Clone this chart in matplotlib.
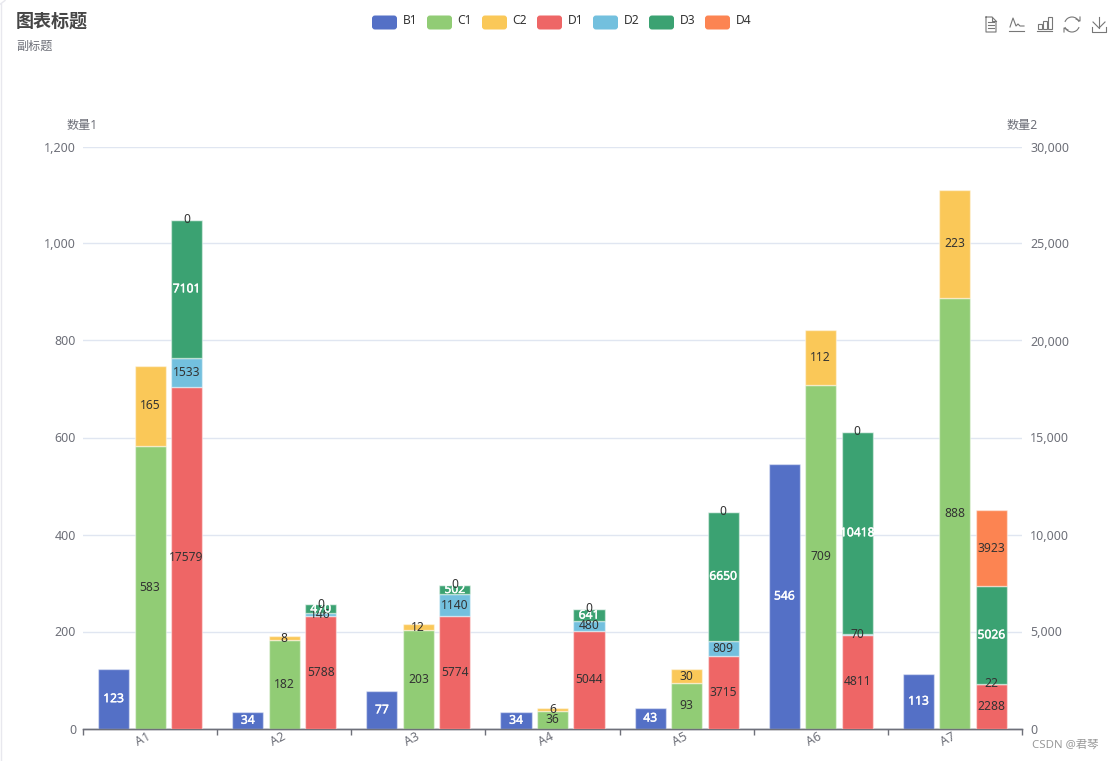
import numpy as np
import matplotlib
matplotlib.use("Agg")
import matplotlib.pyplot as plt
import matplotlib.patheffects as pe
from matplotlib.lines import Line2D
from matplotlib.patches import FancyBboxPatch, Rectangle, Arc
from matplotlib.transforms import Affine2D

plt.rcParams['font.family'] = ['Noto Sans', 'Noto Sans CJK SC', 'DejaVu Sans']

categories = ['A1', 'A2', 'A3', 'A4', 'A5', 'A6', 'A7']
b1 = [123, 34, 77, 34, 43, 546, 113]
c1 = [583, 182, 203, 36, 93, 709, 888]
c2 = [165, 8, 12, 6, 30, 112, 223]
d1 = [17579, 5788, 5774, 5044, 3715, 4811, 2288]
d2 = [1533, 146, 1140, 480, 809, 70, 22]
d3 = [7101, 470, 502, 641, 6650, 10418, 5026]
d4 = [0, 0, 0, 0, 0, 0, 3923]

legend_names = ['B1', 'C1', 'C2', 'D1', 'D2', 'D3', 'D4']
left_ticks = [0, 200, 400, 600, 800, 1000, 1200]
right_ticks = [0, 5000, 10000, 15000, 20000, 25000, 30000]

BLUE = '#5470c6'
GREEN = '#91cc75'
YELLOW = '#fac858'
RED = '#ee6666'
SKY = '#73c0de'
DARK_GREEN = '#3ba272'
ORANGE = '#fc8452'
legend_colors = [BLUE, GREEN, YELLOW, RED, SKY, DARK_GREEN, ORANGE]
legend_x = [372, 427, 482, 537, 593, 649, 705]

AXIS_GREY = '#6e7079'
GRID = '#e0e6f1'
LABEL_DARK = '#333333'
ICON = '#777777'

W, H = 1114, 761
fig = plt.figure(figsize=(W / 100, H / 100), dpi=100)
# plot area in pixels: x 83-1022, y 146.5-728.5
ax = fig.add_axes([83 / W, 1 - 728.5 / H, (1022 - 83) / W, 582 / H])
ax2 = ax.twinx()

# pixel transform for things outside the axes (y going down like the screenshot)
px = Affine2D().scale(1, -1).translate(0, H)

BAR_W = 0.232
OFFSET = 0.272


def stack(axis, xpos, series, colors, label_colors):
    bottom = np.zeros(len(xpos))
    for vals, color, lc in zip(series, colors, label_colors):
        vals = np.array(vals, dtype=float)
        axis.bar(xpos, vals, BAR_W, bottom=bottom, color=color,
                 edgecolor=(1, 1, 1, 0.45), linewidth=1, zorder=3)
        for x, b, v in zip(xpos, bottom, vals):
            t = axis.text(x, b + v / 2, f'{int(v)}', color=lc, fontsize=8.7,
                          ha='center', va='center', zorder=6)
            if lc == 'white':
                t.set_path_effects([pe.withStroke(linewidth=0.3, foreground='white')])
        bottom = bottom + vals


xs = np.arange(len(categories))
stack(ax, xs - OFFSET, [b1], [BLUE], ['white'])
stack(ax, xs, [c1, c2], [GREEN, YELLOW], [LABEL_DARK, LABEL_DARK])
stack(ax2, xs + OFFSET, [d1, d2, d3, d4], [RED, SKY, DARK_GREEN, ORANGE],
      [LABEL_DARK, LABEL_DARK, 'white', LABEL_DARK])

ax.set_xlim(-0.5, len(categories) - 0.5)
ax.set_ylim(0, 1200)
ax2.set_ylim(0, 30000)
ax.set_zorder(ax2.get_zorder() - 1)
ax2.patch.set_visible(False)

ax.set_yticks(left_ticks)
ax.set_yticklabels([f'{v:,}' for v in left_ticks])
ax2.set_yticks(right_ticks)
ax2.set_yticklabels([f'{v:,}' for v in right_ticks])
ax.tick_params(axis='y', length=0, pad=5, labelsize=9, labelcolor=AXIS_GREY)
ax2.tick_params(axis='y', length=0, pad=6, labelsize=9, labelcolor=AXIS_GREY)
ax.grid(axis='y', color=GRID, linewidth=1, zorder=0)
ax.set_axisbelow(True)

for a in (ax, ax2):
    for side in ('top', 'left', 'right'):
        a.spines[side].set_visible(False)
    a.spines['bottom'].set_color(AXIS_GREY)
    a.spines['bottom'].set_linewidth(1)

ax.set_xticks(np.arange(-0.5, len(categories)), minor=False)
ax.set_xticklabels([])
ax.tick_params(axis='x', length=4, width=1, color=AXIS_GREY)
ax2.tick_params(axis='x', length=0)
ax.set_xticks(xs, minor=True)
ax.set_xticklabels(categories, minor=True, rotation=28, ha='right', va='center',
                   rotation_mode='anchor', fontsize=9, color=AXIS_GREY)
ax.tick_params(axis='x', which='minor', length=0, pad=5)

# titles
fig.text(16, 22, '图表标题', transform=px, fontsize=13, fontweight='bold',
         color='#464646', va='center', ha='left')
fig.text(16, 46, '副标题', transform=px, fontsize=8.7, color=AXIS_GREY,
         va='center', ha='left')
fig.text(82.5, 125.5, '数量1', transform=px, fontsize=8.7, color=AXIS_GREY,
         va='center', ha='center')
fig.text(1022.5, 125.5, '数量2', transform=px, fontsize=8.7, color=AXIS_GREY,
         va='center', ha='center')
fig.text(1032, 745, 'CSDN @君琴', transform=px, fontsize=8.2, color='#999999',
         va='center', ha='left')

# legend, echarts style round rects
for name, col, lx in zip(legend_names, legend_colors, legend_x):
    fig.add_artist(FancyBboxPatch((lx + 2, 17.5), 21, 10, boxstyle='round,pad=2,rounding_size=3',
                                  facecolor=col, edgecolor='none', transform=px))
    fig.text(lx + 30.5, 20.5, name, transform=px, fontsize=8.7, color='#333333',
             va='center', ha='left')


def icon_line(xv, yv, lw=0.8):
    fig.add_artist(Line2D(xv, yv, color=ICON, linewidth=lw, transform=px))


# toolbox: data view
icon_line([986, 992, 996, 996, 986, 986], [17, 17, 21, 32, 32, 17])
icon_line([992, 992, 996], [17, 21, 21])
for yy in (22, 25, 28):
    icon_line([988, 994], [yy, yy])
# toolbox: line
icon_line([1009, 1024], [31, 31])
icon_line([1010, 1013, 1016, 1018, 1020, 1024], [27, 18, 26, 24, 26, 26])
# toolbox: bar
icon_line([1037, 1052], [31, 31])
for bx, top in zip((1038, 1043, 1048), (24, 21, 17)):
    fig.add_artist(Rectangle((bx, top), 3.5, 28.5 - top, facecolor='none', edgecolor=ICON,
                             linewidth=0.8, transform=px))
# toolbox: refresh
fig.add_artist(Arc((1072, 24.5), 15, 15, theta1=20, theta2=160, color=ICON, linewidth=0.8, transform=px))
fig.add_artist(Arc((1072, 24.5), 15, 15, theta1=200, theta2=340, color=ICON, linewidth=0.8, transform=px))
icon_line([1076, 1080, 1080], [19, 21, 17])
icon_line([1064, 1064, 1068], [32, 28, 30])
# toolbox: download
icon_line([1092, 1092, 1106, 1106], [27, 32, 32, 27])
icon_line([1099, 1099], [17, 28])
icon_line([1093, 1099, 1105], [22, 28, 22])

# card border on the left
fig.add_artist(Line2D([0.5, 0.5], [4, H], color='#e8e8ee', linewidth=1, transform=px))
fig.add_artist(Line2D([0.5, 5], [4, 0.5], color='#e8e8ee', linewidth=1, transform=px))

fig.savefig('out.png', dpi=100)
